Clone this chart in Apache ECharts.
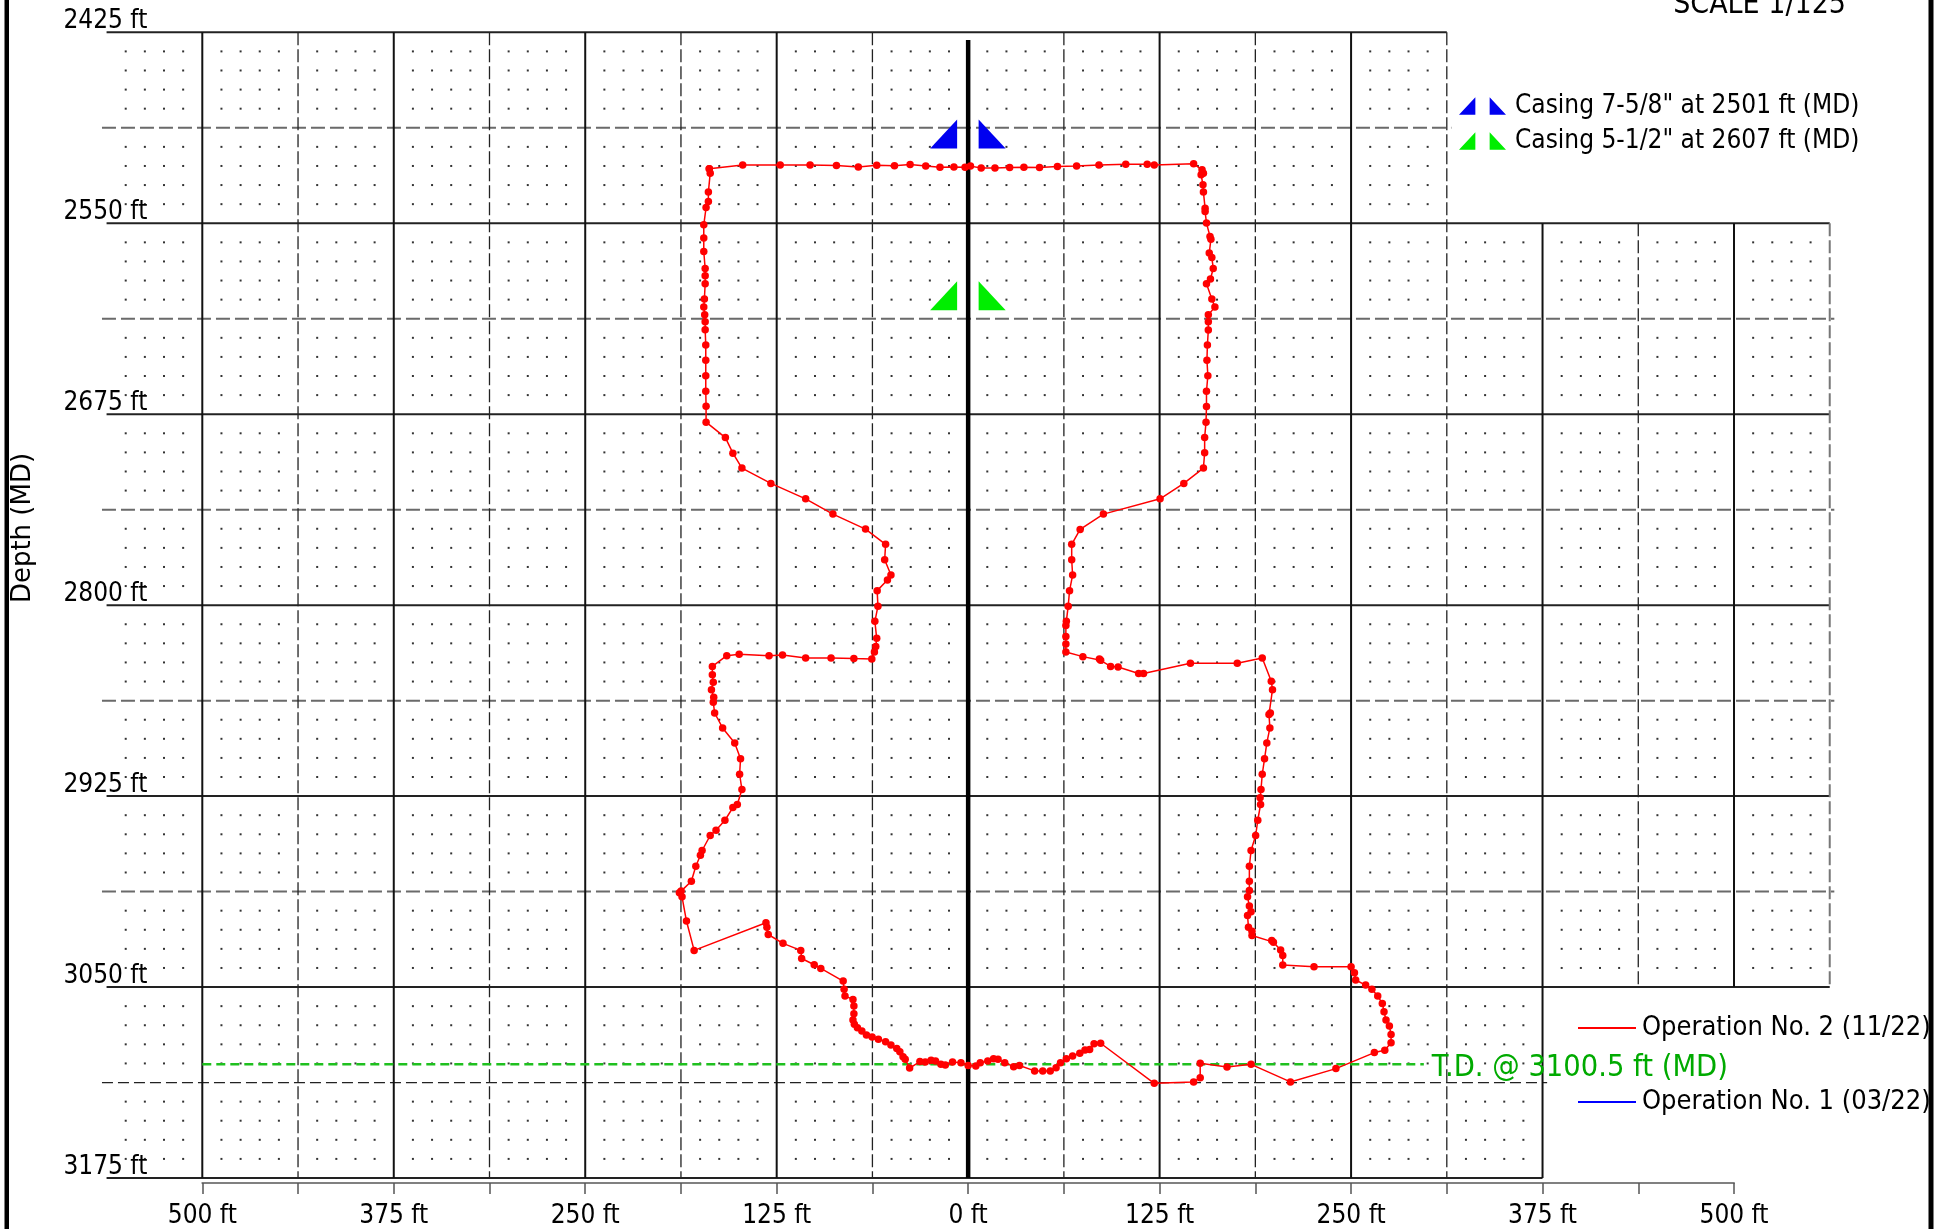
<!DOCTYPE html>
<html><head><meta charset="utf-8">
<script src="https://cdn.jsdelivr.net/npm/echarts@6/dist/echarts.min.js"></script>
<style>html,body{margin:0;padding:0;background:#fff}#c{width:1953px;height:1229px}</style>
</head><body><div id="c"></div>
<script>
const FONT = "'DejaVu Sans Condensed','Liberation Sans Narrow','DejaVu Sans',sans-serif";

// ---- axis ticks ----
const depthTicks = [2425, 2550, 2675, 2800, 2925, 3050, 3175];
const offsetTicks = [-500, -375, -250, -125, 0, 125, 250, 375, 500];

// ---- series names ----
const op2Name = 'Operation No. 2 (11/22)';
const op1Name = 'Operation No. 1 (03/22)';

// ---- Operation No. 2 trace (horizontal offset ft, depth ft MD) ----
const op2Offset = [
-169.0,-168.4,-169.6,-169.6,-171.1,-172.6,-172.6,-172.6,-171.7,-171.7,
-171.7,-172.2,-172.6,-172.0,-171.7,-171.7,-171.3,-171.3,-171.3,-171.3,
-171.1,-171.1,-158.5,-153.6,-147.7,-128.8,-106.1,-88.3,-67.0,-53.9,
-54.5,-50.4,-52.7,-59.4,-58.9,-60.9,-59.7,-60.3,-61.2,-62.9,
-74.6,-89.5,-106.1,-121.2,-130.0,-149.5,-157.6,-167.0,-167.0,-166.4,
-167.6,-166.1,-166.4,-165.5,-160.3,-152.4,-148.6,-149.2,-147.7,-150.7,
-153.6,-158.8,-164.6,-168.4,-173.7,-174.8,-177.8,-180.7,-187.4,-188.5,
-186.8,-183.9,-178.9,-132.0,-131.4,-130.5,-120.9,-109.3,-108.7,-100.5,
-96.2,-81.6,-81.0,-80.4,-75.2,-74.6,-74.6,-75.2,-74.3,-72.3,
-69.4,-66.4,-62.7,-58.6,-53.9,-50.4,-46.6,-44.6,-42.5,-41.1,
-38.2,-31.5,-28.0,-24.2,-21.3,-17.8,-14.9,-10.2,-4.7,0.0,
5.0,7.9,12.8,16.6,19.5,23.9,29.7,33.5,43.4,48.7,
53.6,57.4,60.3,64.1,68.2,72.9,76.3,79.3,82.2,86.5,
121.5,147.2,151.5,151.5,169.0,184.7,210.4,240.1,265.2,272.0,
276.1,276.1,275.0,272.8,271.5,270.4,267.4,263.6,259.5,253.0,
252.2,250.0,225.8,205.4,205.4,204.0,199.3,198.2,185.3,185.3,
183.0,182.4,184.7,183.6,182.4,183.6,183.6,183.6,184.7,187.7,
189.1,190.9,190.6,191.2,192.0,193.5,195.0,197.0,196.4,197.3,
198.7,197.9,192.0,175.7,145.1,114.5,111.3,97.9,93.0,86.5,
85.7,74.9,63.8,63.8,63.8,63.8,64.1,65.3,66.2,68.2,
67.6,67.6,73.1,88.3,125.3,140.8,153.6,154.4,154.4,155.3,
155.6,155.6,156.5,155.9,156.2,156.8,156.8,156.8,161.1,159.1,
155.6,158.2,160.0,159.1,157.4,158.5,157.9,155.6,154.7,154.7,
153.6,153.3,152.1,153.6,152.7,147.2,121.5,116.9,102.9,85.4,
70.8,58.3,46.6,36.4,27.1,17.5,8.5,1.5,-2.0,-9.3,
-18.4,-27.7,-37.9,-48.1,-59.7,-71.7,-86.0,-103.2,-122.7,-147.2,
-169.0
];
const op2Depth = [
2514.4,2517.2,2529.6,2535.7,2539.7,2551.0,2559.7,2568.5,2579.6,2584.4,
2589.6,2599.6,2604.9,2609.9,2614.5,2619.7,2629.7,2639.7,2649.8,2660.0,
2669.8,2680.2,2690.3,2700.5,2710.3,2720.3,2730.4,2740.4,2750.2,2760.2,
2770.3,2780.3,2783.6,2790.5,2800.8,2810.6,2821.7,2827.0,2830.7,2835.2,
2835.0,2834.6,2834.6,2832.6,2833.1,2832.2,2833.1,2840.1,2845.5,2850.5,
2855.3,2860.3,2863.6,2870.6,2880.4,2890.2,2900.6,2910.7,2920.7,2930.5,
2932.5,2940.8,2947.3,2950.8,2960.6,2963.7,2970.9,2980.7,2987.2,2988.3,
2990.9,3006.8,3026.0,3007.9,3010.8,3015.6,3021.4,3026.0,3031.3,3035.4,
3037.8,3046.1,3051.5,3055.9,3058.1,3062.4,3067.4,3071.6,3074.4,3076.6,
3078.8,3081.4,3082.7,3084.2,3085.8,3087.9,3090.3,3092.3,3095.6,3097.3,
3103.0,3098.8,3099.1,3098.0,3098.4,3100.6,3101.1,3099.1,3099.5,3101.3,
3101.7,3099.5,3098.4,3096.9,3097.3,3099.5,3102.1,3101.4,3104.9,3104.9,
3104.9,3102.8,3099.5,3096.9,3095.1,3093.4,3091.2,3090.8,3087.1,3086.8,
3113.0,3112.1,3109.3,3099.9,3102.3,3100.6,3112.1,3103.4,3092.9,3091.4,
3086.4,3081.0,3075.5,3071.6,3066.1,3060.7,3055.9,3051.5,3048.7,3045.4,
3040.6,3036.7,3036.7,3035.6,3029.3,3025.8,3020.6,3019.5,3016.3,3013.4,
3010.8,3003.1,3000.7,2997.0,2990.9,2986.8,2980.7,2970.9,2960.6,2950.8,
2940.8,2930.5,2926.1,2920.7,2910.7,2900.6,2890.2,2880.4,2871.6,2870.6,
2855.3,2849.8,2834.6,2838.1,2838.1,2844.8,2844.8,2840.5,2840.1,2836.1,
2835.2,2833.7,2830.7,2825.4,2820.6,2813.4,2810.6,2800.8,2790.5,2780.3,
2770.3,2760.2,2750.4,2740.4,2730.4,2720.3,2710.3,2700.3,2690.3,2680.2,
2670.0,2660.0,2649.8,2639.7,2629.7,2619.8,2614.5,2609.9,2604.9,2599.6,
2589.6,2586.5,2579.6,2572.4,2569.5,2560.4,2558.6,2549.9,2542.3,2540.1,
2529.6,2524.8,2518.3,2517.2,2515.0,2511.1,2511.8,2511.3,2511.3,2511.8,
2512.6,2512.9,2513.5,2513.3,2513.5,2513.9,2513.9,2512.6,2513.3,2513.1,
2513.3,2512.6,2511.5,2512.4,2512.0,2513.1,2512.2,2511.8,2511.8,2511.8,
2514.4
];
// Operation No. 1 has no visible trace in the picture (legend only)
const op1Offset = [];
const op1Depth = [];

// ---- casings ----
const casingNames = ['Casing 7-5/8" at 2501 ft (MD)', 'Casing 5-1/2" at 2607 ft (MD)'];
const casingDepths = [2501, 2607];
const casingColors = ['#0000f0', '#00ee00'];

// ---- total depth ----
const tdDepth = 3100.5;
const tdLabel = 'T.D. @ 3100.5 ft (MD)';
const tdFrom = -500, tdTo = 297.5;

// ---- sheet layout (grid panels in ft) ----
const panelTop = [2425, 2550, 3050];
const panelBottom = [2550, 3050, 3175];
const panelRight = [312.5, 562.5, 375];
const panelLeft = -562.5;

// ---------- build grid segments ----------
const lineStyles = [
  {c:'#222', w:2, d:null},          // 0 major horizontal
  {c:'#6a6a6a', w:2, d:[14,5]},     // 1 minor horizontal (gray dashed)
  {c:'#222', w:1.3, d:[11,5]},      // 2 minor horizontal bottom panel
  {c:'#111', w:2, d:null},          // 3 major vertical
  {c:'#000', w:4.5, d:null},        // 4 centre line
  {c:'#222', w:1.3, d:[13,4]},      // 5 minor vertical
  {c:'#777', w:2, d:[13,4]}         // 6 edge dashed vertical
];
const segs = [];
function rightAt(d){ let r = -Infinity; for (let i=0;i<3;i++) if (d>=panelTop[i] && d<=panelBottom[i]) r=Math.max(r,panelRight[i]); return r; }
for (let d = 2425; d <= 3175; d += 62.5) {
  const major = (d - 2425) % 125 === 0;
  const r = rightAt(d);
  if (major) segs.push([panelLeft, d, r, d, 0]);
  else segs.push([panelLeft - 3, d, r + 3, d, d > 3050 ? 2 : 1]);
}
for (let v = -500; v <= 562.5; v += 62.5) {
  let top = Infinity, bot = -Infinity;
  for (let i=0;i<3;i++) if (panelRight[i] >= v) { top=Math.min(top,panelTop[i]); bot=Math.max(bot,panelBottom[i]); }
  let st = (v % 125 === 0) ? 3 : 5;
  if (v === 0) { st = 4; top = 2430; }
  if (v === 562.5) st = 6;
  segs.push([v, top, v, bot, st]);
}
// dot pattern
const dots = [];
for (let d = 2437.5; d < 3175; d += 12.5) {
  if ((d - 2425) % 62.5 === 0) continue;
  let r = 0; for (let i=0;i<3;i++) if (d>panelTop[i] && d<panelBottom[i]) r = panelRight[i];
  for (let v = -550; v < r; v += 12.5) {
    if (Math.abs(v % 62.5) < 1e-6) continue;
    dots.push([v, d]);
  }
}

const casingIcon = 'path://M0,17L16,17L16,0Z M30,0L30,17L46,17Z';

const chart = echarts.init(document.getElementById('c'), null, {renderer:'canvas'});
const series = [
  {
    type:'custom', name:'grid', silent:true, clip:false, z:1,
    data: segs, encode:{x:[0,2], y:[1,3]},
    renderItem(p, api){
      const a = api.coord([api.value(0), api.value(1)]);
      const b = api.coord([api.value(2), api.value(3)]);
      const s = lineStyles[api.value(4)];
      return {type:'line', shape:{x1:a[0],y1:a[1],x2:b[0],y2:b[1]},
        style:{stroke:s.c, lineWidth:s.w, lineDash:s.d}};
    }
  },
  {
    type:'scatter', name:'dots', silent:true, clip:false, z:1,
    data: dots, symbol:'rect', symbolSize:2, itemStyle:{color:'#000'}
  },
  {
    type:'line', name:'TD', z:4, silent:true,
    data:[[tdFrom, tdDepth],[tdTo, tdDepth]], symbol:'none',
    lineStyle:{color:'#1fc01f', width:2.5, type:[9,5]},
    endLabel:{show:true, formatter: tdLabel, color:'#00aa00', fontSize:30.5, fontFamily:FONT, distance:8, offset:[0,4]}
  },
  {
    type:'line', name: op2Name, z:5,
    data: op2Offset.map((v,i)=>[v, op2Depth[i]]),
    symbol:'circle', symbolSize:7.5, showSymbol:true,
    itemStyle:{color:'#ff0000'}, lineStyle:{color:'#ff0000', width:1.5}
  },
  {
    type:'line', name: op1Name, z:5,
    data: op1Offset.map((v,i)=>[v, op1Depth[i]]),
    itemStyle:{color:'#0000ff'}, lineStyle:{color:'#0000ff', width:2}
  }
];
casingNames.forEach((n, i) => {
  series.push({
    type:'custom', name:n, z:6, clip:false,
    data:[[0, casingDepths[i]]], encode:{x:0, y:1},
    itemStyle:{color:casingColors[i]},
    renderItem(p, api){
      const c = api.coord([api.value(0), api.value(1)]);
      const col = casingColors[i];
      return {type:'group', children:[
        {type:'polygon', shape:{points:[[c[0]-38,c[1]],[c[0]-11,c[1]],[c[0]-11,c[1]-29]]}, style:{fill:col}},
        {type:'polygon', shape:{points:[[c[0]+10.5,c[1]-29],[c[0]+10.5,c[1]],[c[0]+37.5,c[1]]]}, style:{fill:col}}
      ]};
    }
  });
});

chart.setOption({
  animation:false,
  backgroundColor:'#fff',
  grid:{left:202.3, top:32.3, width:1531.7, height:1146.7, containLabel:false},
  xAxis:{
    type:'value', min:-500, max:500, interval:62.5, position:'bottom', offset:5,
    axisLine:{show:true, lineStyle:{color:'#808080', width:2}},
    axisTick:{show:true, length:11, lineStyle:{color:'#555', width:1.5}},
    splitLine:{show:false},
    axisLabel:{
      formatter: v => offsetTicks.includes(v) ? Math.abs(v) + ' ft' : '',
      fontSize:26, fontFamily:FONT, color:'#000', margin:20
    }
  },
  yAxis:{
    type:'value', inverse:true, min:depthTicks[0], max:depthTicks[depthTicks.length-1], interval:125,
    axisLine:{show:false}, axisTick:{show:false}, splitLine:{show:false},
    axisLabel:{
      formatter: v => depthTicks.includes(v) ? v + ' ft' : '',
      fontSize:26, fontFamily:FONT, color:'#000', margin:55,
      verticalAlign:'bottom', lineHeight:22
    }
  },
  legend:[
    {
      data:[op2Name, op1Name], orient:'vertical', left:1573, top:1008,
      itemWidth:58, itemHeight:2, itemGap:44, icon:'rect', selectedMode:false,
      textStyle:{fontSize:27, fontFamily:FONT, color:'#000', lineHeight:30, padding:[0,0,0,1]}
    },
    {
      data: casingNames.map(n => ({name:n, icon:casingIcon})), orient:'vertical', left:1454, top:86,
      itemWidth:47, itemHeight:18, itemGap:5, selectedMode:false,
      textStyle:{fontSize:26, fontFamily:FONT, color:'#000', lineHeight:30, padding:[0,0,0,4]}
    }
  ],
  graphic:[
    {type:'rect', shape:{x:4.5, y:0, width:4.5, height:1229}, style:{fill:'#000'}},
    {type:'rect', shape:{x:1928.5, y:0, width:5, height:1229}, style:{fill:'#000'}},
    {type:'text', x:23, y:528, rotation:Math.PI/2,
      style:{text:'Depth (MD)', fontSize:26, fontFamily:"'DejaVu Sans',sans-serif", fill:'#000', align:'center', verticalAlign:'middle'}},
    {type:'text', x:1846, y:5,
      style:{text:'SCALE 1/125', fontSize:30, fontFamily:FONT, fill:'#000', align:'right', verticalAlign:'middle'}}
  ],
  series: series
});
</script>
</body></html>
